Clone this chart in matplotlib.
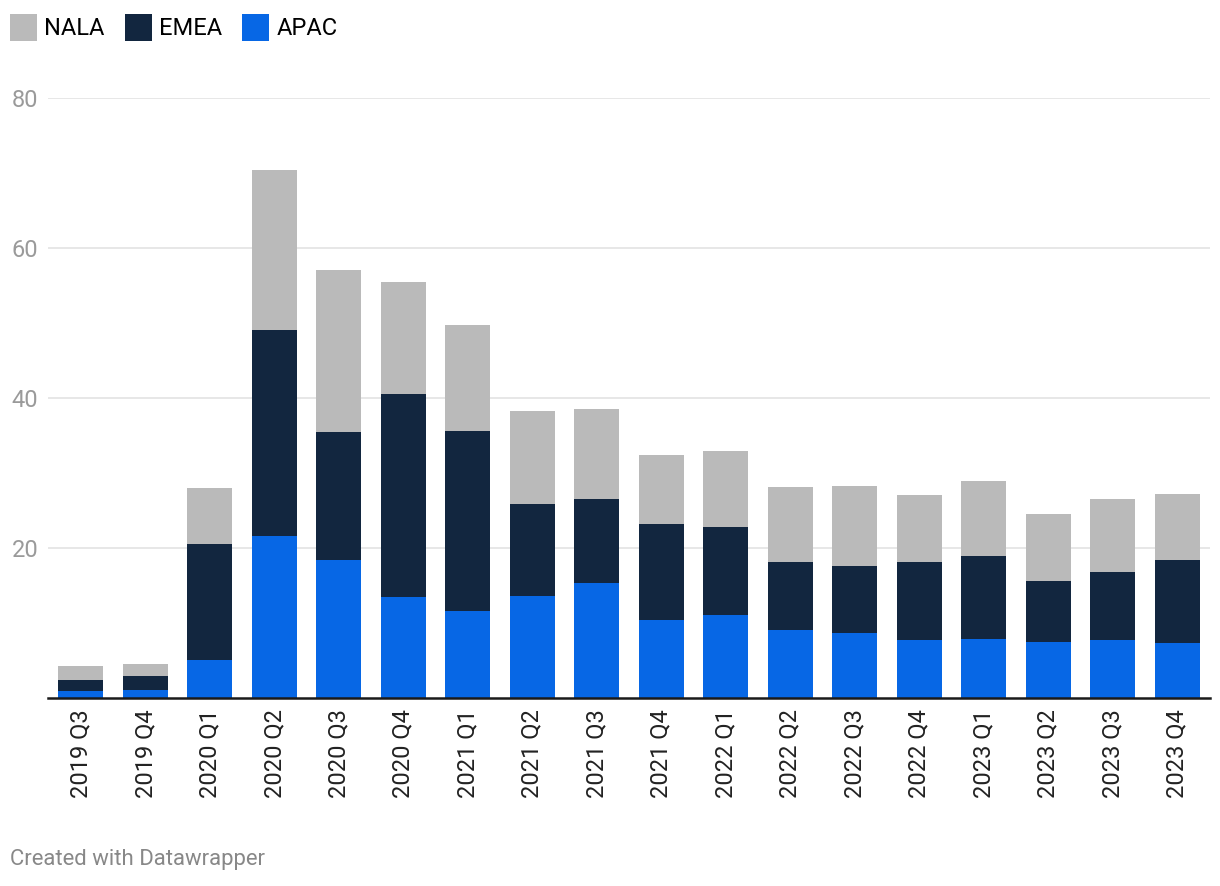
import numpy as np
import matplotlib.pyplot as plt

plt.rcParams['font.family'] = ['Roboto', 'DejaVu Sans']

quarters = ['2019 Q3', '2019 Q4', '2020 Q1', '2020 Q2', '2020 Q3', '2020 Q4',
            '2021 Q1', '2021 Q2', '2021 Q3', '2021 Q4', '2022 Q1', '2022 Q2',
            '2022 Q3', '2022 Q4', '2023 Q1', '2023 Q2', '2023 Q3', '2023 Q4']
apac = [0.9, 1.1, 5.1, 21.6, 18.4, 13.5, 11.6, 13.6, 15.3, 10.4, 11.1, 9.1,
        8.7, 7.7, 7.9, 7.5, 7.7, 7.3]
emea = [1.5, 1.8, 15.4, 27.5, 17.1, 27.1, 24.0, 12.3, 11.2, 12.8, 11.7, 9.1,
        8.9, 10.5, 11.1, 8.1, 9.1, 11.1]
nala = [1.9, 1.7, 7.5, 21.3, 21.6, 14.9, 14.1, 12.4, 12.1, 9.2, 10.1, 10.0,
        10.7, 8.9, 9.9, 8.9, 9.7, 8.8]

c_nala = '#bababa'
c_emea = '#12263f'
c_apac = '#0767e5'

fig = plt.figure(figsize=(12.2, 8.86), dpi=100)
ax = fig.add_axes([48 / 1220, 1 - 698 / 886, (1210 - 48) / 1220, 600 / 886])

x = np.arange(len(quarters))
apac = np.array(apac)
emea = np.array(emea)
nala = np.array(nala)
w = 0.7
b_apac = ax.bar(x, apac, w, color=c_apac, zorder=3)
b_emea = ax.bar(x, emea, w, bottom=apac, color=c_emea, zorder=3)
b_nala = ax.bar(x, nala, w, bottom=apac + emea, color=c_nala, zorder=3)

ax.set_xlim(-0.51, len(quarters) - 0.49)
ax.set_ylim(0, 80)
ax.set_yticks([20, 40, 60, 80])
ax.grid(axis='y', color='#e3e3e3', linewidth=1.2, zorder=0)
ax.set_xticks(x)
ax.set_xticklabels(quarters, rotation=90, fontsize=17, color='#222222')
ax.tick_params(axis='x', length=0, pad=8)
ax.tick_params(axis='y', length=0, pad=7, labelsize=17, labelcolor='#9a9a9a')

for s in ['top', 'right', 'left']:
    ax.spines[s].set_visible(False)
ax.spines['bottom'].set_color('#1a1a1a')
ax.spines['bottom'].set_linewidth(1.8)
ax.spines['bottom'].set_zorder(4)

fig.legend([b_nala, b_emea, b_apac], ['NALA', 'EMEA', 'APAC'],
           loc='upper left', bbox_to_anchor=(10 / 1220, 1 - 14 / 886), ncol=3,
           frameon=False, fontsize=17, handlelength=1.15, handleheight=1.35,
           handletextpad=0.3, columnspacing=0.85, borderaxespad=0, borderpad=0)

fig.text(10 / 1220, 1 - 860 / 886, 'Created with Datawrapper', fontsize=15.9,
         color='#888888', va='center', ha='left')

fig.savefig('out.png', dpi=100)
